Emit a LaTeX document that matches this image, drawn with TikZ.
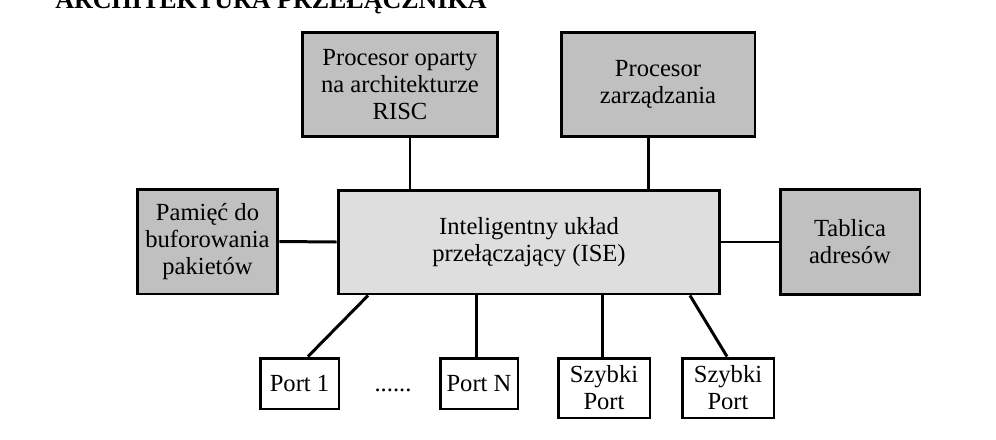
\documentclass[tikz,border=0pt]{standalone}
\usepackage{fontspec}
\setmainfont{Liberation Serif}
\usepackage{tikz}
\usetikzlibrary{positioning}
\definecolor{szaryBlok}{RGB}{192, 192, 192}
\definecolor{szaryISE}{RGB}{222, 222, 222}

\begin{document}
\begin{tikzpicture}[
            x=0.02cm, y=-0.02cm,
            every node/.style={font=\fontsize{14}{15.4}\selectfont, align=center},
            blok/.style={rectangle, draw=black, line width=1.7pt, fill=szaryBlok, inner sep=0pt},
            port/.style={rectangle, draw=black, line width=1.7pt, fill=white, inner sep=0pt},
            linia/.style={line width=1.7pt, draw=black}
        ]
            \useasboundingbox (0,0) rectangle (996,439);
            % tytul (obciety u gory)
            \node[anchor=base, font=\fontsize{14.8}{16}\selectfont\bfseries] (tytul) at (271,9) {ARCHITEKTURA PRZEŁĄCZNIKA};
            % bloki
            \node[blok, minimum width=3.92cm, minimum height=2.1cm] (risc) at (400,84.5) {Procesor oparty\\na architekturze\\RISC};
            \node[blok, minimum width=3.88cm, minimum height=2.1cm] (zarz) at (658,84.5) {Procesor\\zarządzania};
            \node[blok, fill=szaryISE, minimum width=7.64cm, minimum height=2.08cm] (ise) at (529,242) {Inteligentny układ\\przełączający (ISE)};
            \node[blok, minimum width=2.82cm, minimum height=2.1cm] (pamiec) at (207.5,241.5) {Pamięć do\\buforowania\\pakietów};
            \node[blok, minimum width=2.8cm, minimum height=2.12cm] (tablica) at (850,242) {Tablica\\adresów};
            % porty
            \node[port, minimum width=1.58cm, minimum height=1.02cm] (port1) at (299.5,383.5) {Port 1};
            \node[port, minimum width=1.56cm, minimum height=1.02cm] (portN) at (479,383.5) {Port N};
            \node[anchor=base] (kropki) at (393,391) {......};
            \node[port, minimum width=1.84cm, minimum height=1.2cm] (szybki1) at (604,388) {Szybki\\Port};
            \node[port, minimum width=1.84cm, minimum height=1.2cm] (szybki2) at (728,388) {Szybki\\Port};
            % polaczenia
            \draw[linia] ([xshift=0.2cm]risc.south) -- ([xshift=0.2cm]risc.south |- ise.north);
            \draw[linia] ([xshift=-0.2cm]zarz.south) -- ([xshift=-0.2cm]zarz.south |- ise.north);
            \draw[linia] (pamiec.east) -- (ise.west);
            \draw[linia] (ise.east) -- (tablica.west);
            \draw[linia] ([xshift=-3.22cm]ise.south) -- ([xshift=0.17cm]port1.north);
            \draw[linia] (portN.north -| 476,0) -- (ise.south -| 476,0);
            \draw[linia] (szybki1.north -| 602,0) -- (ise.south -| 602,0);
            \draw[linia] ([xshift=3.22cm]ise.south) -- ([xshift=-0.02cm]szybki2.north);
        \end{tikzpicture}
\end{document}
